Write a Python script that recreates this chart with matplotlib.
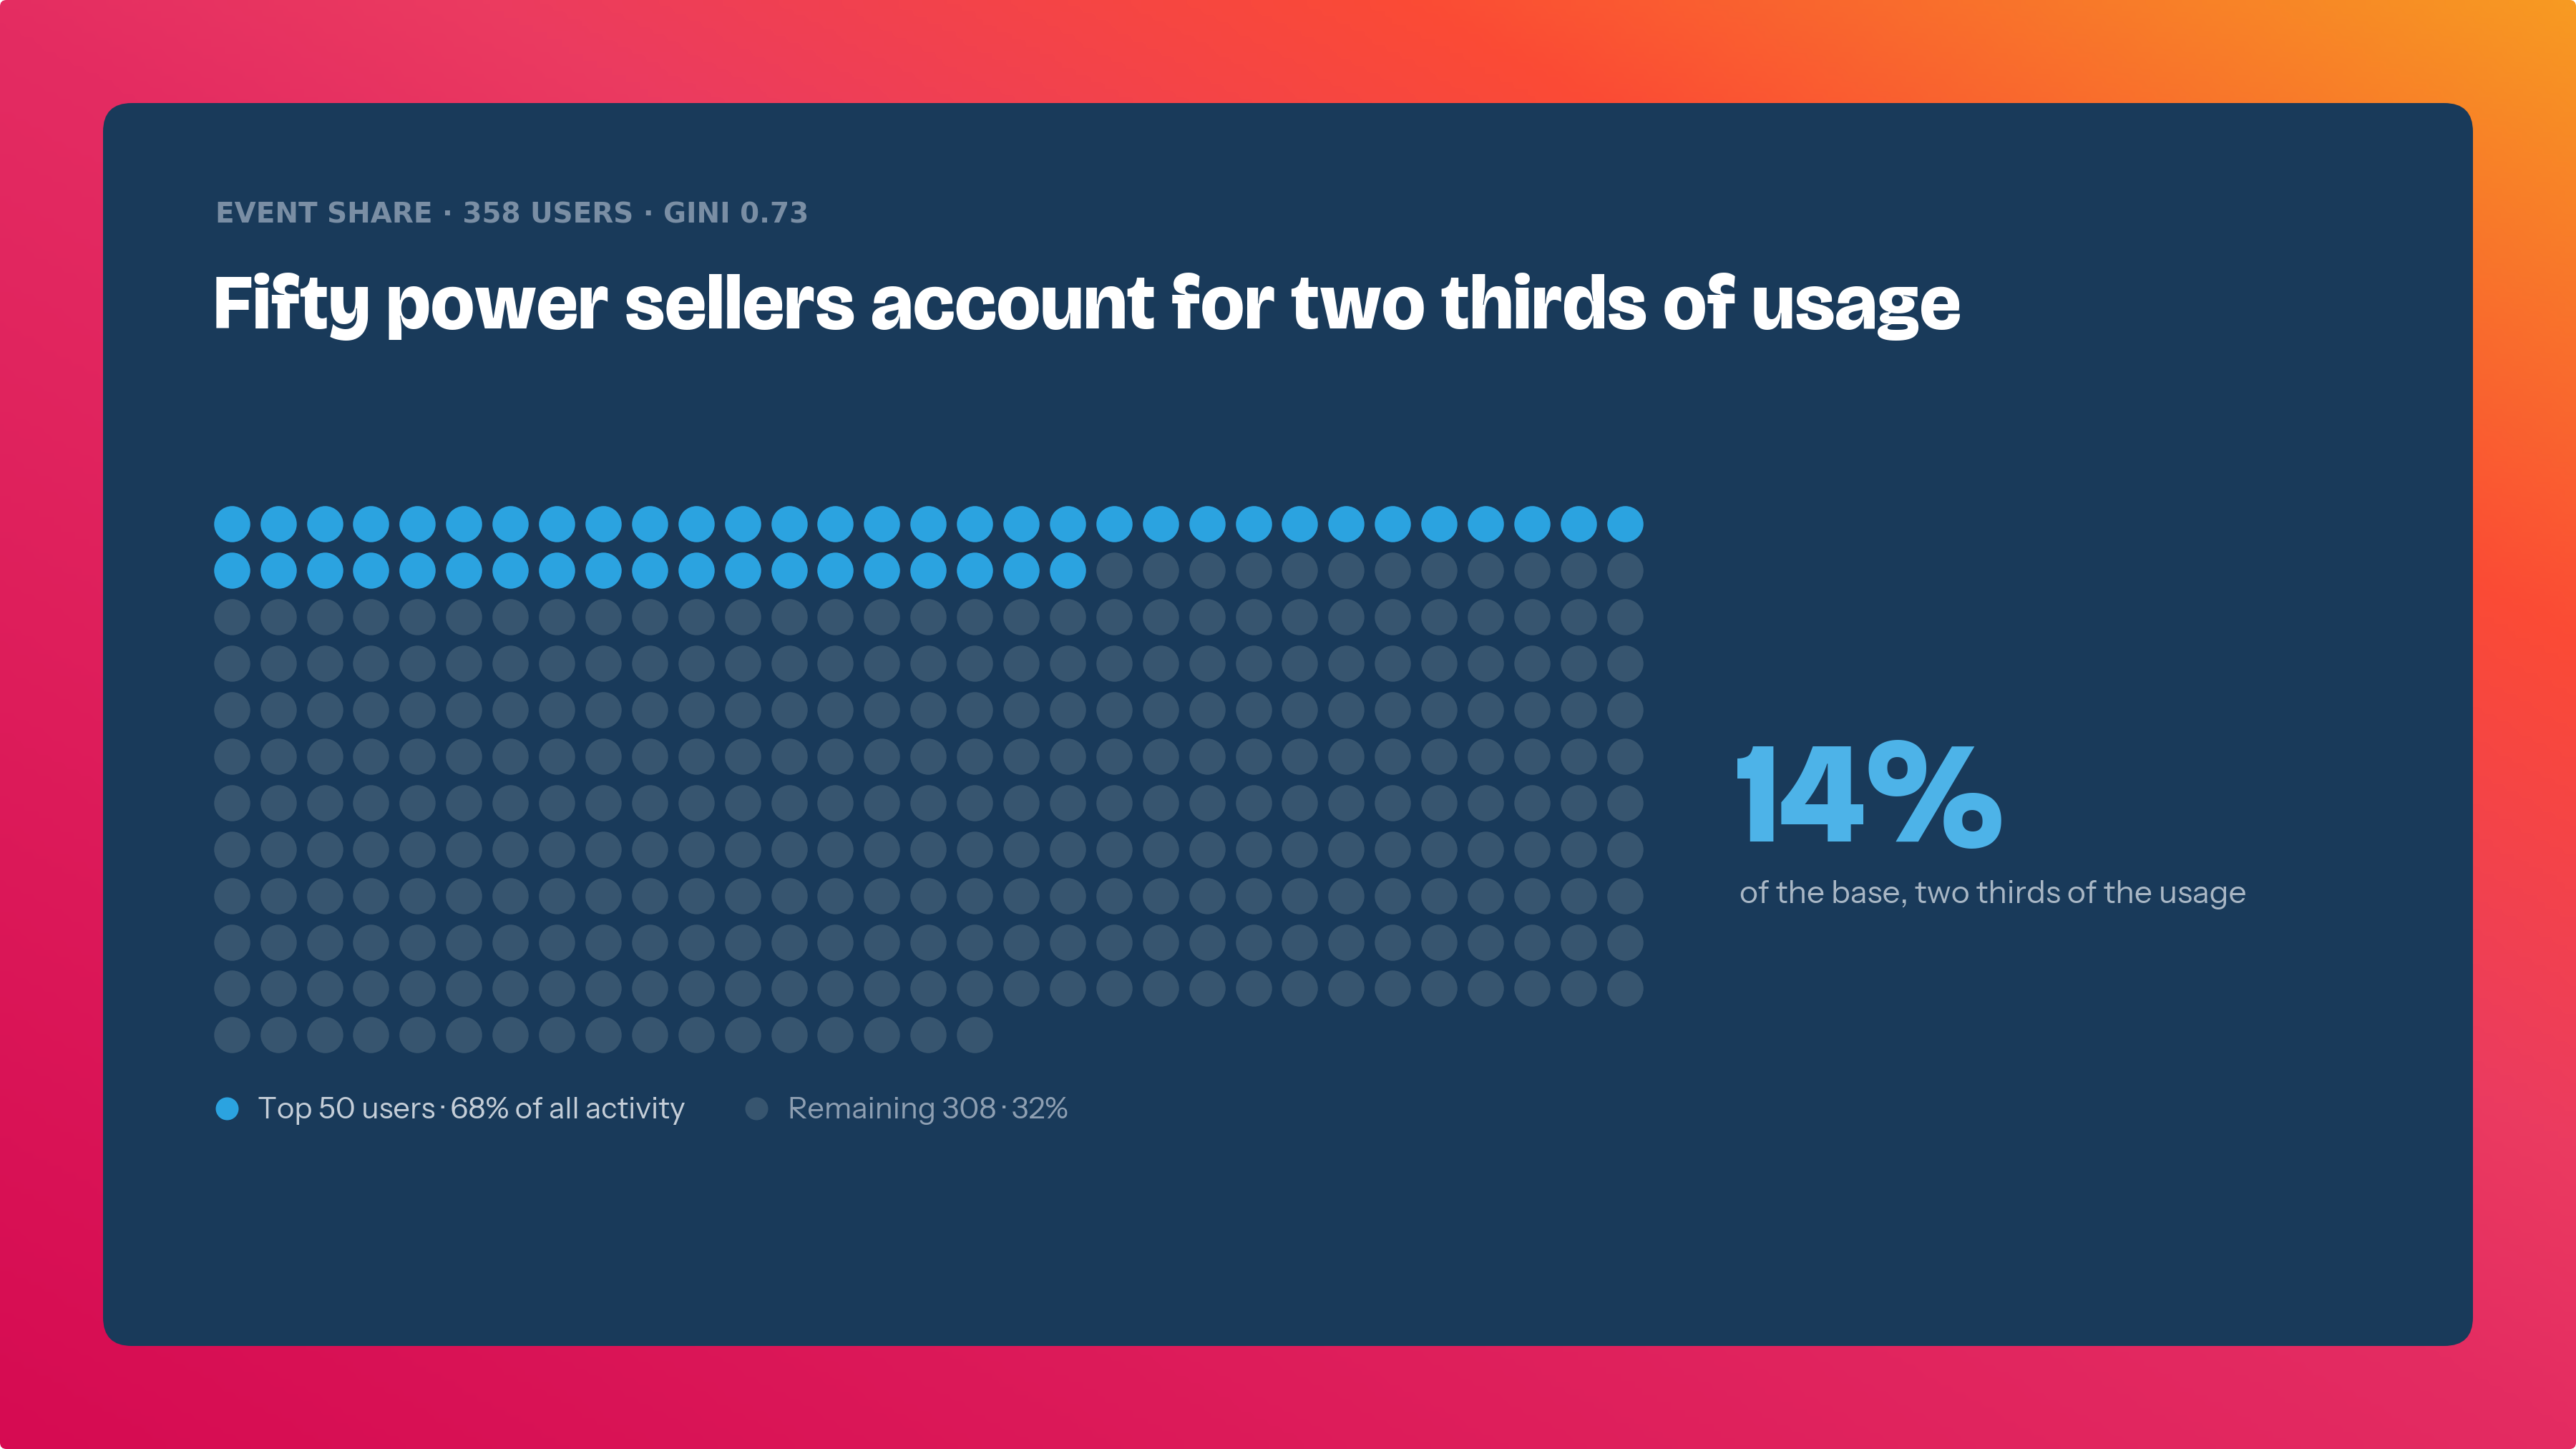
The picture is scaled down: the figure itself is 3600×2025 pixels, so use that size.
import numpy as np
import matplotlib
matplotlib.use("Agg")
import matplotlib.pyplot as plt
from matplotlib.colors import LinearSegmentedColormap
from matplotlib.patches import FancyBboxPatch

# data
n_users = 358
n_top = 50
n_cols = 31
top_share = 68
rest_share = 32
eyebrow = "EVENT SHARE · 358 USERS · GINI 0.73"
title = "Fifty power sellers account for two thirds of usage"
big_number = "14%"
big_caption = "of the base, two thirds of the usage"
legend_labels = ["Top 50 users · 68% of all activity", "Remaining 308 · 32%"]

# colours
card_col = "#193a5a"
top_col = "#2ba3e0"
rest_col = "#37556f"

W, H = 3600, 2025
fig = plt.figure(figsize=(36, 20.25), dpi=100)
fig.patch.set_facecolor("white")

bg = fig.add_axes([0, 0, 1, 1])
bg.set_xlim(0, W)
bg.set_ylim(H, 0)
bg.axis("off")

# background gradient (diagonal, bottom-left -> top-right)
grad = LinearSegmentedColormap.from_list(
    "bg", [(0.0, "#d60b52"), (0.5, "#e42c62"), (0.6, "#eb3b60"),
           (0.78, "#fb4b35"), (1.0, "#f79a22")])
gx, gy = np.meshgrid(np.linspace(0, W, 360), np.linspace(0, H, 203))
t = (gx * 0.48 - gy * 0.877 + 1776) / 3504
im = bg.imshow(grad(t), extent=(0, W, H, 0), interpolation="bilinear", zorder=0)
outer = FancyBboxPatch((0, 0), W, H, boxstyle="round,pad=0,rounding_size=9",
                       transform=bg.transData, facecolor="none", edgecolor="none")
bg.add_patch(outer)
im.set_clip_path(outer)

card = FancyBboxPatch((144, 144), 3312, 1737, boxstyle="round,pad=0,rounding_size=40",
                      facecolor=card_col, edgecolor="none", zorder=1)
bg.add_patch(card)

# headings
bg.text(301, 312, eyebrow, color="#7a8ea4", fontsize=28, fontweight="bold",
        family=["DejaVu Sans"], va="baseline", ha="left", zorder=3)
bg.text(298, 459, title, color="white", fontsize=78, fontweight="bold",
        family=["Bricolage Grotesque", "Inter", "DejaVu Sans"], va="baseline", ha="left", zorder=3)

# waffle grid
cell = 64.9
left = 323.7 - cell / 2
top = 732.4 - cell / 2
n_rows = int(np.ceil(n_users / n_cols))
gw, gh = n_cols * cell, n_rows * cell
ax = fig.add_axes([left / W, 1 - (top + gh) / H, gw / W, gh / H])
ax.set_xlim(-0.5, n_cols - 0.5)
ax.set_ylim(n_rows - 0.5, -0.5)
ax.axis("off")
ax.patch.set_alpha(0)

idx = np.arange(n_users)
cols = idx % n_cols
rows = idx // n_cols
is_top = idx < n_top
dot_pt = 50.5 / 100 * 72
ax.scatter(cols[~is_top], rows[~is_top], s=dot_pt ** 2, color=rest_col, linewidths=0, zorder=2)
ax.scatter(cols[is_top], rows[is_top], s=dot_pt ** 2, color=top_col, linewidths=0, zorder=3)

# legend
leg_pt = 32 / 100 * 72
bg.scatter([317], [1549], s=leg_pt ** 2, color=top_col, linewidths=0, zorder=3)
bg.text(360, 1563, legend_labels[0], color="#c5ced8", fontsize=30,
        family=["Instrument Sans", "Inter", "DejaVu Sans"], va="baseline", ha="left", zorder=3)
bg.scatter([1057], [1549], s=leg_pt ** 2, color=rest_col, linewidths=0, zorder=3)
bg.text(1101, 1563, legend_labels[1], color="#8e9fb2", fontsize=30,
        family=["Instrument Sans", "Inter", "DejaVu Sans"], va="baseline", ha="left", zorder=3)

# callout
bg.text(2424, 1176, big_number, color="#4db3e8", fontsize=145, fontweight="bold",
        family=["Bricolage Grotesque", "Inter", "DejaVu Sans"], va="baseline", ha="left", zorder=3)
bg.text(2431, 1262, big_caption, color="#a9b7c5", fontsize=32,
        family=["Instrument Sans", "Inter", "DejaVu Sans"], va="baseline", ha="left", zorder=3)

fig.savefig("out.png", dpi=100, facecolor=fig.get_facecolor())
